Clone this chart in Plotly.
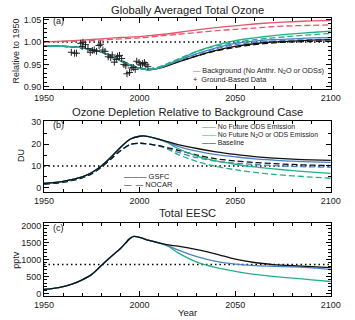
import plotly.graph_objects as go

# ---------------- data ----------------
yrs_a = [1950,1960,1970,1980,1990,2000,2005,2010,2020,2030,2040,2050,2060,2070,2080,2090,2100]
red_s = [1.000,1.002,1.004,1.007,1.010,1.012,1.014,1.016,1.021,1.027,1.032,1.036,1.040,1.043,1.045,1.047,1.048]
red_d = [1.000,1.001,1.002,1.004,1.007,1.009,1.011,1.013,1.017,1.021,1.025,1.028,1.031,1.034,1.036,1.037,1.038]
grn_s = [0.991,0.990,0.987,0.978,0.958,0.941,0.938,0.942,0.960,0.979,0.993,1.003,1.009,1.014,1.018,1.021,1.024]
grn_d = [0.991,0.990,0.987,0.978,0.959,0.942,0.940,0.944,0.962,0.979,0.991,0.999,1.005,1.009,1.013,1.016,1.019]
blu_s = [0.991,0.990,0.987,0.978,0.958,0.941,0.938,0.942,0.958,0.974,0.987,0.997,1.002,1.005,1.007,1.009,1.010]
blu_d = [0.991,0.990,0.987,0.978,0.959,0.942,0.940,0.944,0.959,0.973,0.985,0.994,0.999,1.002,1.004,1.005,1.006]
blk_s = [0.991,0.990,0.987,0.978,0.958,0.941,0.938,0.941,0.955,0.969,0.981,0.990,0.996,1.000,1.002,1.004,1.005]
blk_d = [0.991,0.990,0.987,0.978,0.959,0.942,0.940,0.943,0.956,0.969,0.980,0.988,0.994,0.998,1.000,1.001,1.002]

obs_yr = [1964.3,1966,1967,1969.2,1970.4,1970,1971.7,1973,1974.2,1975.3,1976.3,1977.5,1978.8,1979.6,
          1980.8,1981.9,1983.6,1984.9,1985.7,1986.8,1987.8,1988.5,1989.5,1990.6,1991.8,1992.8,1993.4,
          1994.7,1995.6,1996.7,1997.7,1998.5,1999.7,2000.5,2001.6,2002.6,2003.3,2004.3]
obs_val = [0.977,0.975,0.975,0.997,0.999,0.990,0.994,0.985,0.977,0.981,0.982,0.979,0.992,0.995,
           0.982,0.979,0.967,0.965,0.971,0.955,0.961,0.968,0.970,0.963,0.950,0.947,0.929,
           0.932,0.942,0.943,0.939,0.957,0.954,0.949,0.952,0.954,0.949,0.945]

yrs_b = [1950,1960,1970,1975,1980,1985,1990,1995,2000,2003,2010,2015,2020,2030,2040,2050,2060,2070,2080,2090,2100]
blk_s_b = [2.0,3.0,5.0,7.0,10.0,14.0,18.5,22.2,23.6,23.7,22.3,21.0,19.8,18.0,16.5,15.3,14.3,13.6,13.1,12.8,12.6]
blu_s_b = [2.0,3.0,5.0,7.0,10.0,14.0,18.5,22.2,23.6,23.7,22.3,20.8,19.0,16.8,15.2,14.2,13.3,12.7,12.2,11.9,11.7]
grn_s_b = [2.0,3.0,5.0,7.0,10.0,14.0,18.5,22.2,23.6,23.7,22.2,20.5,18.0,14.5,12.3,10.8,9.6,8.7,7.9,7.2,6.6]
blk_d_b = [1.7,2.6,4.6,6.5,9.5,13.2,17.0,19.8,20.4,20.2,19.3,18.3,17.2,15.0,13.3,12.3,11.6,11.1,10.7,10.4,10.2]
blu_d_b = [1.7,2.6,4.6,6.5,9.5,13.2,17.0,19.8,20.4,20.2,19.3,18.0,16.3,13.8,12.2,11.3,10.7,10.2,9.8,9.6,9.4]
grn_d_b = [1.7,2.6,4.6,6.5,9.5,13.2,17.0,19.8,20.4,20.2,19.2,17.6,15.3,12.0,9.8,8.3,7.1,6.2,5.5,4.9,4.4]

yrs_c = [1950,1955,1960,1965,1970,1975,1980,1985,1990,1995,1997,2000,2005,2010,2015,2020,2030,2040,2050,2060,2070,2080,2090,2100]
blk_c = [120,150,200,280,400,560,820,1080,1320,1620,1680,1650,1560,1490,1430,1390,1290,1160,1010,910,850,815,790,760]
blu_c = [120,150,200,280,400,560,820,1080,1320,1620,1680,1650,1560,1490,1400,1280,1080,940,860,820,800,780,750,700]
grn_c = [120,150,200,280,400,560,820,1080,1320,1620,1680,1650,1560,1490,1390,1200,920,760,650,560,500,450,400,350]

ref_a, ref_b, ref_c = 1.0, 10.0, 850.0

RED, GRN, BLU, BLK = "#e4566a", "#22b088", "#4b82c6", "#111111"
FONT = "Liberation Sans, Arial, Helvetica, sans-serif"

fig = go.Figure()

def line(x, y, color, dash, xa, ya, width=1.3):
    fig.add_trace(go.Scatter(x=x, y=y, mode="lines", line=dict(color=color, width=width, dash=dash, shape="spline", smoothing=0.8),
                             xaxis=xa, yaxis=ya, showlegend=False, hoverinfo="skip"))

def refline(v, xa, ya):
    fig.add_trace(go.Scatter(x=[1950, 2100], y=[v, v], mode="lines",
                             line=dict(color="black", width=1.5, dash="1.5px,3px"),
                             xaxis=xa, yaxis=ya, showlegend=False, hoverinfo="skip"))

DASH = "6px,3px"
# panel a
refline(ref_a, "x", "y")
line(yrs_a, red_d, RED, DASH, "x", "y")
line(yrs_a, red_s, RED, "solid", "x", "y")
line(yrs_a, blk_d, BLK, DASH, "x", "y")
line(yrs_a, blu_d, BLU, DASH, "x", "y")
line(yrs_a, grn_d, GRN, DASH, "x", "y")
line(yrs_a, blk_s, BLK, "solid", "x", "y")
line(yrs_a, blu_s, BLU, "solid", "x", "y")
line(yrs_a, grn_s, GRN, "solid", "x", "y")
fig.add_trace(go.Scatter(x=obs_yr, y=obs_val, mode="markers", xaxis="x", yaxis="y", showlegend=False,
                         marker=dict(symbol="cross-thin", size=5, line=dict(color="#222", width=1))))

# panel b
refline(ref_b, "x2", "y2")
line(yrs_b, grn_d_b, GRN, DASH, "x2", "y2")
line(yrs_b, blu_d_b, BLU, DASH, "x2", "y2")
line(yrs_b, blk_d_b, BLK, DASH, "x2", "y2")
line(yrs_b, grn_s_b, GRN, "solid", "x2", "y2")
line(yrs_b, blu_s_b, BLU, "solid", "x2", "y2")
line(yrs_b, blk_s_b, BLK, "solid", "x2", "y2")

# panel c
refline(ref_c, "x3", "y3")
line(yrs_c, grn_c, GRN, "solid", "x3", "y3")
line(yrs_c, blu_c, BLU, "solid", "x3", "y3")
line(yrs_c, blk_c, BLK, "solid", "x3", "y3")

xd = [36/355, 340/355]
TF = dict(size=9, color="#222", family=FONT)
def xax(anchor):
    return dict(domain=xd, anchor=anchor, range=[1950, 2100], tickvals=[1950, 2000, 2050, 2100],
                showline=True, linecolor="black", linewidth=1, mirror="ticks", ticks="inside", ticklen=5,
                tickcolor="black", showgrid=False, zeroline=False, tickfont=TF,
                minor=dict(ticks="inside", ticklen=3, tickcolor="black", dtick=10, tick0=1950, showgrid=False))

def yax(anchor, dom, rng, dtick, mdtick, fmt=None):
    d = dict(domain=dom, anchor=anchor, range=rng, dtick=dtick, tick0=0,
             showline=True, linecolor="black", linewidth=1, mirror="ticks", ticks="inside", ticklen=5,
             tickcolor="black", showgrid=False, zeroline=False, tickfont=TF,
             minor=dict(ticks="inside", ticklen=3, tickcolor="black", dtick=mdtick, showgrid=False))
    if fmt:
        d["tickformat"] = fmt
    return d

fig.update_layout(
    width=355, height=320, margin=dict(l=0, r=0, t=0, b=0),
    paper_bgcolor="white", plot_bgcolor="white",
    font=dict(family=FONT, size=9, color="#222"),
    xaxis=xax("y"), yaxis=yax("x", [233/320, 306/320], [0.895, 1.054], 0.05, 0.01, ".2f"),
    xaxis2=xax("y2"), yaxis2=yax("x2", [128/320, 200/320], [-1.8, 30.4], 10, 5),
    xaxis3=xax("y3"), yaxis3=yax("x3", [21/320, 96/320], [-90, 2070], 500, 100),
)

def ann(x, y, text, size=9, xanchor="center", yanchor="middle", angle=0, color="#222", height=None):
    kw = {}
    if height:
        kw["height"] = height
    fig.add_annotation(x=x, y=y, xref="paper", yref="paper", text=text, showarrow=False,
                       xanchor=xanchor, yanchor=yanchor, textangle=angle, borderpad=0,
                       font=dict(family=FONT, size=size, color=color), **kw)

def px(xp, yp):
    return xp/355, 1 - yp/320

# titles
ann(*px(188, 6), "Globally Averaged Total Ozone", size=11.2)
ann(*px(188, 110), "Ozone Depletion Relative to Background Case", size=11.2)
ann(*px(188, 214), "Total EESC", size=11.2)
ann(*px(188, 315), "Year", size=9.5)
# y titles
ann(*px(6, 48), "Relative to 1950", size=9, angle=-90)
ann(*px(11, 155), "DU", size=9, angle=-90)
ann(*px(7, 262), "pptv", size=9, angle=-90)
# panel labels
ann(*px(44, 17), "(a)", xanchor="left")
ann(*px(44, 124), "(b)", xanchor="left")
ann(*px(44, 229), "(c)", xanchor="left")

def sw(color, text):
    return f"<span style='color:{color}'>——</span> {text}"

# legends
ann(*px(193, 68), f"<span style='color:{RED}'>—</span> Background (No Anthr. N<sub>2</sub>O or ODSs)",
    size=7.3, xanchor="left", height=9)
ann(*px(193, 77), "+  Ground-Based Data", size=7.3, xanchor="left", height=8)

ann(*px(202, 126), sw(BLU, "No Future ODS Emission"), size=6.9, xanchor="left", height=7.5)
ann(*px(202, 134), sw(GRN, "No Future N<sub>2</sub>O or ODS Emission"), size=6.9, xanchor="left", height=7.5)
ann(*px(202, 142), sw(BLK, "Baseline"), size=6.9, xanchor="left", height=7.5)

ann(*px(120, 177), f"<span style='color:{BLK}'>———</span> GSFC", size=7.5, xanchor="left", height=7.5)
ann(*px(120, 185), f"<span style='color:{BLK}'>—&nbsp;&nbsp;—</span> NOCAR", size=7.5, xanchor="left", height=7.5)

fig.write_html("out.html")
